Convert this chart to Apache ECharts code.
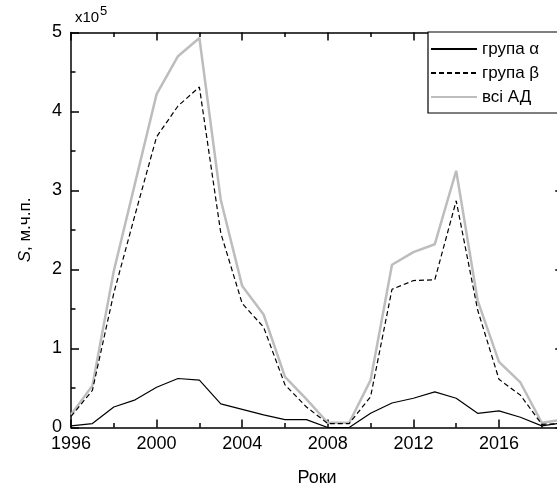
<!DOCTYPE html>
<html>
<head>
<meta charset="utf-8">
<script src="https://cdn.jsdelivr.net/npm/echarts@6/dist/echarts.min.js"></script>
<style>
  html, body { margin: 0; padding: 0; background: #fff; }
  #chart { width: 557px; height: 490px; }
</style>
</head>
<body>
<div id="chart"></div>
<script>
// роки і значення (x10^5)
const years = [1996, 1997, 1998, 1999, 2000, 2001, 2002, 2003, 2004, 2005, 2006, 2007,
  2008, 2009, 2010, 2011, 2012, 2013, 2014, 2015, 2016, 2017, 2018, 2019]
const alphaVals = [0.02, 0.05, 0.26, 0.35, 0.51, 0.62, 0.60, 0.30, 0.23, 0.16, 0.10, 0.10,
  0.00, 0.00, 0.18, 0.31, 0.37, 0.45, 0.37, 0.18, 0.21, 0.13, 0.02, 0.06]
const betaVals = [0.14, 0.47, 1.70, 2.70, 3.68, 4.07, 4.31, 2.46, 1.57, 1.27, 0.54, 0.26,
  0.05, 0.05, 0.39, 1.75, 1.86, 1.87, 2.87, 1.49, 0.61, 0.41, 0.04, 0.05]
const allVals = [0.16, 0.53, 1.98, 3.10, 4.22, 4.70, 4.93, 2.88, 1.79, 1.43, 0.64, 0.36,
  0.06, 0.06, 0.60, 2.06, 2.22, 2.32, 3.25, 1.61, 0.83, 0.57, 0.06, 0.10]
const seriesNames = ['група α', 'група β', 'всі АД']

const font = 'Liberation Sans, Arial, sans-serif'
const pairs = vals => years.map((y, i) => [y, vals[i]])

const axisLine = { show: true, lineStyle: { color: '#000', width: 1.5 } }

function xAx (pos, interval, tickLen, showLine, showLabel) {
  return {
    type: 'value',
    position: pos,
    min: 1996,
    max: 2019,
    interval: interval,
    axisLine: showLine ? axisLine : { show: false },
    axisTick: { show: true, inside: true, length: tickLen, lineStyle: { color: '#000', width: 1.5 } },
    axisLabel: {
      show: showLabel,
      margin: 8,
      color: '#000',
      fontSize: 18,
      fontFamily: font,
      formatter: v => (v % 4 === 0 ? String(v) : '')
    },
    splitLine: { show: false }
  }
}

function yAx (pos, showLabel) {
  return {
    type: 'value',
    position: pos,
    min: 0,
    max: 5,
    interval: 1,
    axisLine: axisLine,
    axisTick: { show: true, inside: true, length: 8, lineStyle: { color: '#000', width: 1.5 } },
    minorTick: { show: true, splitNumber: 2, length: 4.5, lineStyle: { color: '#000', width: 1.5 } },
    axisLabel: { show: showLabel, margin: 9, color: '#000', fontSize: 18, fontFamily: font },
    splitLine: { show: false },
    minorSplitLine: { show: false }
  }
}

const chart = echarts.init(document.getElementById('chart'), null, { renderer: 'canvas' })

const left = yAx('left', true)
left.name = '{i|S}, м.ч.п.'
left.nameLocation = 'middle'
left.nameRotate = 90
left.nameGap = 37
left.nameTextStyle = {
  color: '#000', fontSize: 17, fontFamily: font,
  rich: { i: { fontStyle: 'italic', fontSize: 17, fontFamily: font, color: '#000' } }
}

const bottom = xAx('bottom', 4, 8, true, true)
bottom.name = 'Роки'
bottom.nameLocation = 'middle'
bottom.nameGap = 42
bottom.nameTextStyle = { color: '#000', fontSize: 18, fontFamily: font }

chart.setOption({
  animation: false,
  backgroundColor: '#fff',
  grid: { left: 71, top: 32.5, right: -6.2, bottom: 62.5, containLabel: false, outerBoundsMode: 'none' },
  xAxis: [
    bottom,
    xAx('bottom', 2, 4.5, false, false),
    xAx('top', 4, 8, true, false),
    xAx('top', 2, 4.5, false, false)
  ],
  yAxis: [left, yAx('right', false)],
  legend: {
    orient: 'vertical',
    left: 428,
    top: 32,
    itemWidth: 46,
    itemHeight: 14,
    itemGap: 6,
    padding: [8, 70, 7, 2],
    borderColor: '#000',
    borderWidth: 1.2,
    backgroundColor: '#fff',
    textStyle: { color: '#000', fontSize: 17, fontFamily: font, lineHeight: 18 },
    data: seriesNames
  },
  graphic: [
    { type: 'text', left: 75, top: 10, style: { text: 'x10', fontSize: 15, fontFamily: font, fill: '#000' } },
    { type: 'text', left: 100, top: 5, style: { text: '5', fontSize: 13, fontFamily: font, fill: '#000' } }
  ],
  series: [
    {
      name: seriesNames[0],
      type: 'line',
      symbol: 'none',
      data: pairs(alphaVals),
      lineStyle: { color: '#000', width: 1.2 },
      itemStyle: { color: '#000', opacity: 0 },
      z: 3
    },
    {
      name: seriesNames[1],
      type: 'line',
      symbol: 'none',
      data: pairs(betaVals),
      lineStyle: { color: '#000', width: 1.2, type: [5, 3] },
      itemStyle: { color: '#000', opacity: 0 },
      z: 3
    },
    {
      name: seriesNames[2],
      type: 'line',
      symbol: 'none',
      data: pairs(allVals),
      lineStyle: { color: '#bdbdbd', width: 2.5 },
      itemStyle: { color: '#bdbdbd', opacity: 0 },
      z: 2
    }
  ]
})
</script>
</body>
</html>
